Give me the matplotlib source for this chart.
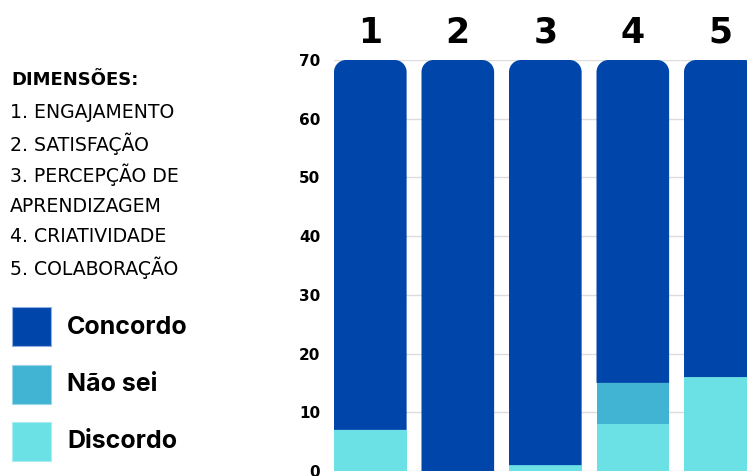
import matplotlib
matplotlib.use("Agg")
import matplotlib.pyplot as plt
import matplotlib.patches as mpatches
from matplotlib.path import Path
import matplotlib.transforms as mtransforms
import numpy as np

# ---- data ----
dimensions = ["1", "2", "3", "4", "5"]
discordo = [7, 0, 1, 8, 16]
nao_sei = [0, 0, 0, 7, 0]
concordo = [63, 70, 69, 55, 54]
series_names = ["Concordo", "Não sei", "Discordo"]
y_ticks = [0, 10, 20, 30, 40, 50, 60, 70]
side_title = "DIMENSÕES:"
side_lines = ["1. ENGAJAMENTO", "2. SATISFAÇÃO", "3. PERCEPÇÃO DE",
              "APRENDIZAGEM", "4. CRIATIVIDADE", "5. COLABORAÇÃO"]

c_conc = "#0046AA"
c_nao = "#42B4D3"
c_disc = "#6BE1E6"
colors = [c_conc, c_nao, c_disc]

W, H = 747, 476
fig = plt.figure(figsize=(W / 100, H / 100), dpi=100)
ax = fig.add_axes([334 / W, 5 / H, (W - 334) / W, 411 / H])

x = np.arange(len(dimensions))
bw = 0.83
disc = np.array(discordo)
nao = np.array(nao_sei)
conc = np.array(concordo)

ax.bar(x, disc, width=bw, color=c_disc, zorder=2, linewidth=0)
ax.bar(x, nao, width=bw, bottom=disc, color=c_nao, zorder=2, linewidth=0)
top_bars = ax.bar(x, conc, width=bw, bottom=disc + nao, color=c_conc,
                  zorder=2, linewidth=0)

ax.set_xlim(-bw / 2, -bw / 2 + (W - 334) / 87.5)
ax.set_ylim(0, 70)

# round the top corners of the top segment (radius ~12 px)
px_x = (W - 334) / (ax.get_xlim()[1] - ax.get_xlim()[0])
px_y = 411 / 70.0
rx = 12 / px_x
ry = 12 / px_y
k = 0.5523
for rect in top_bars.patches:
    x0 = rect.get_x()
    w = rect.get_width()
    y0 = rect.get_y()
    y1 = y0 + rect.get_height()
    x1 = x0 + w
    verts = [
        (x0, y0), (x1, y0), (x1, y1 - ry),
        (x1, y1 - ry + k * ry), (x1 - rx + k * rx, y1), (x1 - rx, y1),
        (x0 + rx, y1),
        (x0 + rx - k * rx, y1), (x0, y1 - ry + k * ry), (x0, y1 - ry),
        (x0, y0),
    ]
    codes = [Path.MOVETO, Path.LINETO, Path.LINETO,
             Path.CURVE4, Path.CURVE4, Path.CURVE4,
             Path.LINETO,
             Path.CURVE4, Path.CURVE4, Path.CURVE4,
             Path.CLOSEPOLY]
    patch = mpatches.PathPatch(Path(verts, codes), facecolor=rect.get_facecolor(),
                               edgecolor="none", zorder=2)
    rect.set_visible(False)
    ax.add_patch(patch)

ax.set_yticks(y_ticks)
ax.set_yticklabels([str(v) for v in y_ticks], fontsize=11, fontweight="bold",
                   family="DejaVu Sans")
ax.tick_params(axis="y", length=0, pad=10)
ax.set_xticks([])
for s in ax.spines.values():
    s.set_visible(False)
ax.yaxis.grid(True, color="#dcdcdc", linewidth=1, zorder=0)
ax.set_axisbelow(True)

trans = mtransforms.blended_transform_factory(ax.transData, ax.transAxes)
for xi, lab in zip(x, dimensions):
    ax.text(xi, 1.066, lab, transform=trans, ha="center", va="center",
            fontsize=25, fontweight="bold", family="DejaVu Sans", clip_on=False)

# side text
fig.text(11 / W, 1 - 80 / H, side_title, fontsize=13, fontweight="bold",
         family="DejaVu Sans", va="center", ha="left")
for i, line in enumerate(side_lines):
    fig.text(10 / W, 1 - (113 + 31 * i) / H, line, fontsize=13.6,
             family="DejaVu Sans", va="center", ha="left")

# legend
edge_cols = ["#8fb0e0", "#9ad6e6", "#a8eef0"]
for i, (name, c, ec) in enumerate(zip(series_names, colors, edge_cols)):
    top = 307 + 57.5 * i
    fig.add_artist(mpatches.Rectangle((12 / W, 1 - (top + 39) / H), 39 / W, 39 / H,
                                      facecolor=c, edgecolor=ec, linewidth=0.8,
                                      transform=fig.transFigure))
    fig.text(67 / W, 1 - (top + 20) / H, name, fontsize=18, fontweight="bold",
             family="Inter", va="center", ha="left")

fig.savefig("out.png", dpi=100)
